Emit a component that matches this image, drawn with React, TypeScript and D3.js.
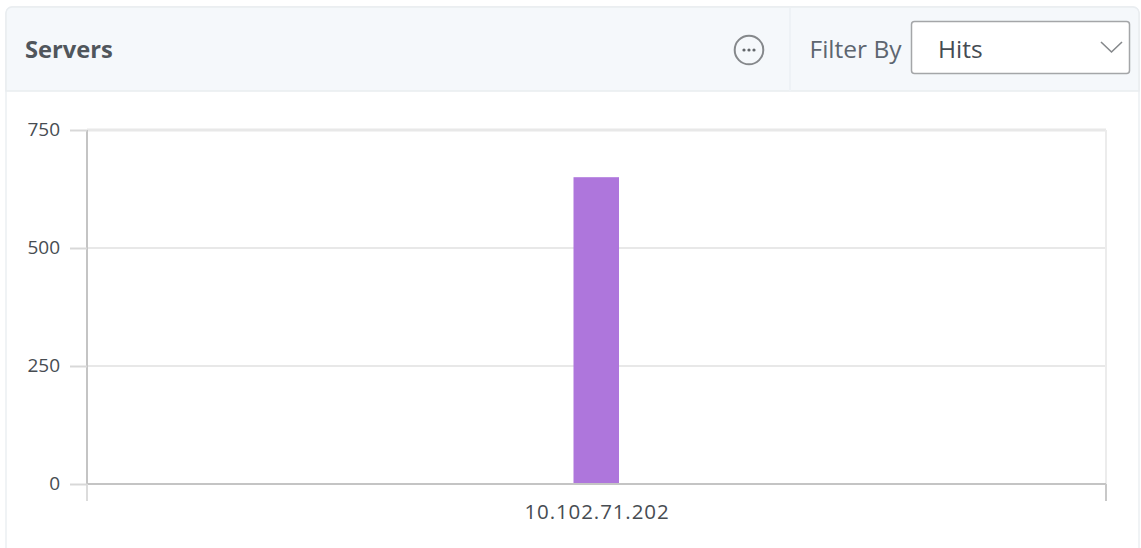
import React, { useEffect, useRef } from "react";
import * as d3 from "d3";

const categories = ["10.102.71.202"];
const hits = [650];
const yTicks = [0, 250, 500, 750];
const panelTitle = "Servers";
const filterLabel = "Filter By";
const filterValue = "Hits";

const FONT = "'Open Sans', sans-serif";
const W = 1141;
const H = 548;
const plot = { left: 87, right: 1106, top: 130, bottom: 484 };

export default function App() {
  const axisX = useRef<SVGGElement>(null);
  const axisY = useRef<SVGGElement>(null);

  const x = d3.scaleBand<string>().domain(categories).range([plot.left, plot.right]);
  const y = d3.scaleLinear().domain([0, 750]).range([plot.bottom, plot.top]);
  const barW = 45.5;

  useEffect(() => {
    const gy = d3.select(axisY.current!);
    gy.call(d3.axisLeft(y).tickValues(yTicks).tickSize(17).tickPadding(10));
    gy.select(".domain").remove();
    gy.selectAll("line").attr("stroke", "#d8d8d8").attr("stroke-width", 2);
    gy.selectAll("text")
      .attr("fill", "#474c52")
      .attr("dy", "0.31em")
      .style("font-family", FONT)
      .style("font-size", "19px");

    const gx = d3.select(axisX.current!);
    gx.call(d3.axisBottom(x).tickValues([]).tickSize(0));
    gx.select(".domain").remove();
  }, []);

  return (
    <svg
      width={W}
      height={H}
      style={{ position: "absolute", left: 0, top: 0, background: "#fff" }}
    >
      <rect x={6} y={7} width={1133} height={560} rx={6} fill="#fff" stroke="#eceff2" strokeWidth={1.5} />
      <path
        d="M6 91 V13 a6 6 0 0 1 6 -6 H1133 a6 6 0 0 1 6 6 V91 Z"
        fill="#f5f8fb"
        stroke="#e9edf0"
        strokeWidth={1.5}
      />
      <line x1={790} x2={790} y1={8} y2={91} stroke="#eef2f6" strokeWidth={2} />
      <text x={25} y={58} fontFamily={FONT} fontSize={23.7} fontWeight={700} fill="#50565c">
        {panelTitle}
      </text>

      <circle cx={749} cy={50} r={14.3} fill="none" stroke="#85888b" strokeWidth={2} />
      {[-5, 0, 5].map((d) => (
        <circle key={d} cx={749 + d} cy={50} r={1.6} fill="#63676b" />
      ))}

      <text x={809.5} y={58} fontFamily={FONT} fontSize={24.5} fill="#5d6670">
        {filterLabel}
      </text>
      <rect x={911.5} y={21.5} width={218} height={52} rx={3} fill="#fff" stroke="#a4a6a8" strokeWidth={1.5} />
      <text x={938} y={58} fontFamily={FONT} fontSize={24.5} fill="#454b52">
        {filterValue}
      </text>
      <path d="M1101 42 L1111.5 52 L1122 42" fill="none" stroke="#85888b" strokeWidth={1.6} />

      {yTicks.map((t) => (
        <line
          key={t}
          x1={plot.left}
          x2={plot.right}
          y1={y(t)}
          y2={y(t)}
          stroke="#e8e8e8"
          strokeWidth={t === 750 ? 3 : 2}
        />
      ))}
      <line x1={plot.right} x2={plot.right} y1={plot.top} y2={plot.bottom} stroke="#ececec" strokeWidth={2} />

      {categories.map((c, i) => (
        <rect
          key={c}
          x={x(c)! + x.bandwidth() / 2 - barW / 2 - 0.25}
          y={y(hits[i])}
          width={barW}
          height={plot.bottom - y(hits[i])}
          fill="#ae76dc"
        />
      ))}

      <line x1={plot.left} x2={plot.left} y1={plot.top} y2={plot.bottom} stroke="#c4c4c4" strokeWidth={2} />
      <line x1={plot.left} x2={plot.right} y1={plot.bottom} y2={plot.bottom} stroke="#c4c4c4" strokeWidth={2} />
      <line x1={plot.left} x2={plot.left} y1={plot.bottom} y2={plot.bottom + 17} stroke="#dcdcdc" strokeWidth={2} />
      <line x1={plot.right} x2={plot.right} y1={plot.bottom} y2={plot.bottom + 17} stroke="#c8c8c8" strokeWidth={2} />

      <g ref={axisY} transform={`translate(${plot.left},0)`} />
      <g ref={axisX} transform={`translate(0,${plot.bottom})`} />
      {categories.map((c) => (
        <text
          key={c}
          x={x(c)! + x.bandwidth() / 2 + 0.5}
          y={519}
          textAnchor="middle"
          fontFamily={FONT}
          fontSize={20.5}
          letterSpacing={0.9}
          fill="#474c52"
        >
          {c}
        </text>
      ))}
    </svg>
  );
}
